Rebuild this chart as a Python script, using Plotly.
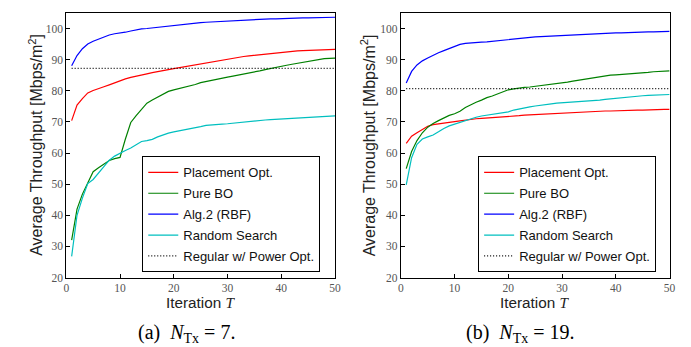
import plotly.graph_objects as go

iterations = list(range(1, 51))

# (a) N_Tx = 7
a_placement = [70.4, 75.4, 77.5, 79.3, 80.1, 80.8, 81.3, 81.9, 82.6, 83.3, 83.8, 84.3, 84.6, 85.0, 85.4, 85.8, 86.2, 86.5, 86.8, 87.1,
               87.4, 87.7, 88.0, 88.4, 88.8, 89.1, 89.4, 89.7, 90.0, 90.2, 90.5, 90.7, 91.0, 91.2, 91.4, 91.6, 91.8, 92.0, 92.2, 92.4,
               92.5, 92.7, 92.8, 92.9, 93.0, 93.1, 93.2, 93.2, 93.3, 93.3]
a_pure_bo = [32.0, 42.0, 46.8, 50.6, 54.0, 55.3, 56.6, 57.6, 58.2, 58.6, 64.5, 69.8, 72.0, 74.0, 76.0, 77.0, 78.0, 79.0, 79.8, 80.3,
             80.7, 81.2, 81.6, 82.0, 82.6, 83.0, 83.4, 83.7, 84.0, 84.4, 84.7, 85.0, 85.3, 85.7, 86.0, 86.4, 86.8, 87.2, 87.6, 87.9,
             88.2, 88.5, 88.8, 89.2, 89.6, 89.9, 90.1, 90.3, 90.4, 90.5]
a_alg2 = [88.0, 91.3, 93.5, 95.0, 95.9, 96.6, 97.3, 97.9, 98.3, 98.5, 98.8, 99.2, 99.6, 99.9, 100.0, 100.2, 100.4, 100.7, 100.9, 101.1,
          101.3, 101.5, 101.6, 101.8, 101.9, 102.0, 102.1, 102.2, 102.3, 102.5, 102.6, 102.7, 102.8, 102.8, 102.9, 103.0, 103.0, 103.1, 103.1, 103.2,
          103.2, 103.3, 103.3, 103.4, 103.4, 103.4, 103.5, 103.5, 103.5, 103.6]
a_random = [26.8, 40.0, 45.5, 50.2, 51.5, 53.5, 55.8, 57.7, 59.0, 60.0, 60.8, 61.6, 62.6, 63.7, 64.0, 64.4, 65.2, 65.9, 66.4, 66.8,
            67.1, 67.4, 67.8, 68.1, 68.5, 68.9, 69.1, 69.2, 69.3, 69.4, 69.6, 69.8, 70.0, 70.2, 70.4, 70.5, 70.6, 70.7, 70.8, 70.9,
            71.0, 71.2, 71.3, 71.4, 71.5, 71.6, 71.7, 71.8, 71.8, 71.9]
a_regular = 87.2

# (b) N_Tx = 19
b_placement = [63.1, 65.4, 66.5, 67.6, 68.6, 69.1, 69.4, 69.6, 69.9, 70.1, 70.3, 70.6, 70.8, 71.0, 71.1, 71.2, 71.3, 71.4, 71.6, 71.8,
               71.9, 72.0, 72.2, 72.3, 72.4, 72.5, 72.6, 72.7, 72.8, 72.9, 72.9, 73.0, 73.1, 73.2, 73.3, 73.3, 73.4, 73.5, 73.5, 73.6,
               73.6, 73.7, 73.7, 73.8, 73.8, 73.9, 73.9, 73.9, 74.0, 74.0]
b_pure_bo = [55.0, 60.5, 64.0, 66.5, 68.3, 69.5, 70.4, 71.2, 72.1, 72.6, 73.4, 74.6, 75.5, 76.3, 77.0, 77.8, 78.3, 79.0, 79.8, 80.3,
             80.6, 80.9, 81.1, 81.2, 81.4, 81.6, 81.8, 82.1, 82.4, 82.6, 82.8, 83.1, 83.4, 83.7, 84.0, 84.3, 84.6, 84.8, 85.0, 85.1,
             85.2, 85.3, 85.5, 85.6, 85.8, 85.9, 86.1, 86.2, 86.3, 86.4]
b_alg2 = [82.5, 86.2, 88.3, 89.6, 90.5, 91.4, 92.2, 92.9, 93.5, 94.3, 94.9, 95.2, 95.4, 95.5, 95.6, 95.7, 95.9, 96.1, 96.3, 96.5,
          96.7, 96.9, 97.0, 97.1, 97.3, 97.4, 97.5, 97.6, 97.7, 97.8, 97.9, 98.0, 98.1, 98.2, 98.3, 98.4, 98.4, 98.5, 98.5, 98.6,
          98.6, 98.7, 98.7, 98.8, 98.8, 98.9, 98.9, 99.0, 99.0, 99.1]
b_random = [49.8, 58.5, 62.8, 64.5, 65.2, 65.8, 66.8, 67.9, 68.7, 69.3, 69.8, 70.4, 70.9, 71.5, 71.9, 72.2, 72.4, 72.6, 72.9, 73.2,
            73.8, 74.2, 74.5, 74.8, 75.1, 75.4, 75.6, 75.8, 76.0, 76.1, 76.3, 76.4, 76.5, 76.7, 76.8, 76.9, 77.0, 77.2, 77.4, 77.6,
            77.8, 77.9, 78.0, 78.2, 78.4, 78.5, 78.6, 78.7, 78.8, 78.8]
b_regular = 80.7

series_names = ["Placement Opt.", "Pure BO", "Alg.2 (RBF)", "Random Search", "Regular w/ Power Opt."]
colors = ["#ff0000", "#008000", "#0000ff", "#00bfbf", "#000000"]

x_ticks = [0, 10, 20, 30, 40, 50]
y_ticks = [20, 30, 40, 50, 60, 70, 80, 90, 100]
captions = ["(a)\u2002<i>N</i><sub>Tx</sub> = 7.", "(b)\u2002<i>N</i><sub>Tx</sub> = 19."]

W, H = 691, 347
fig = go.Figure()

panels = [
    ("x", "y", "legend", "a", [a_placement, a_pure_bo, a_alg2, a_random], a_regular),
    ("x2", "y2", "legend2", "b", [b_placement, b_pure_bo, b_alg2, b_random], b_regular),
]
for xa, ya, lg, tag, ser, reg in panels:
    for i, (name, col, vals) in enumerate(zip(series_names[:4], colors[:4], ser)):
        fig.add_trace(go.Scatter(x=iterations, y=vals, mode="lines", name=name, legendgroup=f"{tag}{i}",
                                 line=dict(color=col, width=1.2), xaxis=xa, yaxis=ya, legend=lg))
    fig.add_trace(go.Scatter(x=[1, 50], y=[reg, reg], mode="lines", name=series_names[4], legendgroup=f"{tag}4",
                             line=dict(color="black", width=1.2, dash="1px,2px"), xaxis=xa, yaxis=ya, legend=lg))

def px_x(p):
    return p / W

def px_y(p):
    return (H - p) / H

ydom = [px_y(274.3), px_y(5)]
axis_common = dict(showline=True, linecolor="black", linewidth=1, mirror=True,
                   ticks="inside", ticklen=4, tickwidth=1, tickcolor="black",
                   showgrid=False, zeroline=False,
                   tickfont=dict(family="Liberation Serif", size=11.5, color="#555555"))

legend_common = dict(xanchor="left", yanchor="top", bordercolor="black", borderwidth=1, bgcolor="white",
                     tracegroupgap=1, font=dict(family="Liberation Sans", size=13, color="#111111"))

fig.update_layout(
    width=W, height=H, margin=dict(l=0, r=0, t=0, b=0),
    plot_bgcolor="white", paper_bgcolor="white",
    xaxis=dict(domain=[px_x(56), px_x(328.3)], range=[0, 50], tickvals=x_ticks, anchor="y", **axis_common),
    yaxis=dict(domain=ydom, range=[20, 105], tickvals=y_ticks, anchor="x", **axis_common),
    xaxis2=dict(domain=[px_x(395), px_x(667.3)], range=[0, 50], tickvals=x_ticks, anchor="y2", **axis_common),
    yaxis2=dict(domain=ydom, range=[20, 105], tickvals=y_ticks, anchor="x2", **axis_common),
    legend=dict(x=px_x(133), y=px_y(151), **legend_common),
    legend2=dict(x=px_x(473.3), y=px_y(151), **legend_common),
    showlegend=True,
)

ytitle = "Average Throughput [Mbps/m<sup>2</sup>]"
xtitle = "Iteration <span style=\"font-family:Liberation Serif;font-style:italic\">T</span>"
for cx in [25, 362]:
    fig.add_annotation(x=px_x(cx), y=px_y(139.5), xref="paper", yref="paper", text=ytitle,
                       textangle=-90, showarrow=False, xanchor="center", yanchor="middle",
                       font=dict(family="Liberation Sans", size=16, color="#222222"))
for cx in [192.2, 531.2]:
    fig.add_annotation(x=px_x(cx), y=px_y(299.5), xref="paper", yref="paper", text=xtitle,
                       showarrow=False, xanchor="center", yanchor="middle", height=14, valign="middle",
                       font=dict(family="Liberation Sans", size=15.3, color="#222222"))
for cx, cap in zip([177.5, 516.7], captions):
    fig.add_annotation(x=px_x(cx), y=px_y(331), xref="paper", yref="paper", text=cap,
                       showarrow=False, xanchor="center", yanchor="middle",
                       font=dict(family="Liberation Serif", size=20, color="black"))

fig.write_html("out.html")
